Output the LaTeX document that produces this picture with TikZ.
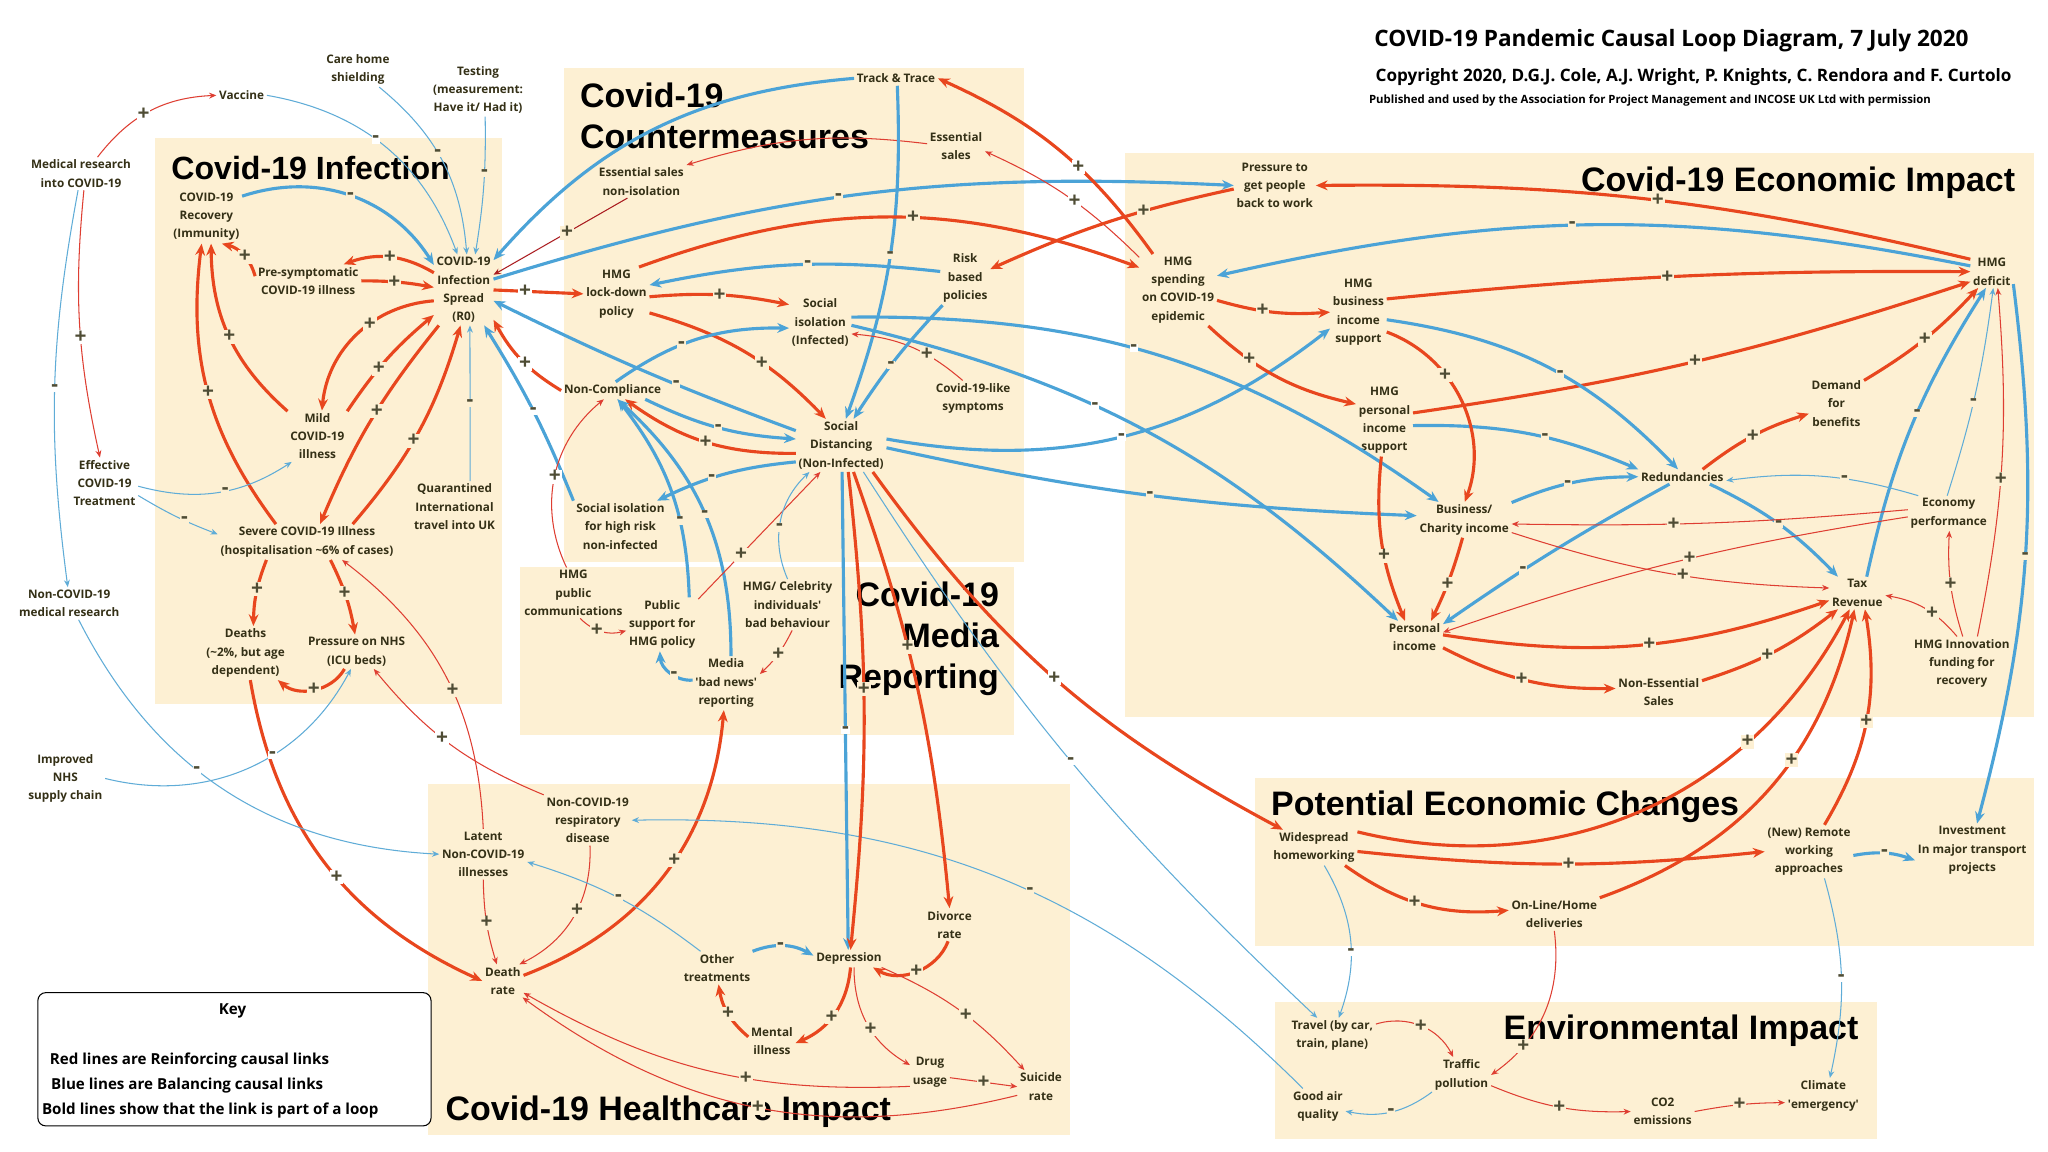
\documentclass[tikz,border=0pt]{standalone}
\usepackage{fontspec}
\setmainfont{Open Sans}
\newfontfamily\hdfont{Liberation Sans}
\usetikzlibrary{arrows.meta}
\definecolor{boxbg}{RGB}{253,240,211}
\definecolor{ink}{RGB}{52,48,22}
\definecolor{sgn}{RGB}{78,76,52}
\definecolor{redB}{RGB}{232,70,30}
\definecolor{redT}{RGB}{222,62,50}
\definecolor{redD}{RGB}{170,28,32}
\definecolor{bluB}{RGB}{75,163,215}
\definecolor{bluT}{RGB}{95,172,215}

\begin{document}
\begin{tikzpicture}[x=1pt,y=-1pt,
    nd/.style={align=center, text=ink, inner sep=2pt, font=\fontsize{9}{14}\selectfont\bfseries},
    ttl/.style={inner sep=0pt, text=black, font=\hdfont\fontsize{26}{31.5}\selectfont\bfseries},
    rb/.style={draw=redB, line width=2.4pt, -{Stealth[length=9pt,width=7.5pt]}},
    rt/.style={draw=redT, line width=0.8pt, -{Stealth[length=5.5pt,width=4.5pt]}},
    rd/.style={draw=redD, line width=0.8pt, -{Stealth[length=5.5pt,width=4.5pt]}},
    bb/.style={draw=bluB, line width=2.4pt, -{Stealth[length=9pt,width=7.5pt]}},
    bt/.style={draw=bluT, line width=0.8pt, -{Stealth[length=5.5pt,width=4.5pt]}},
    sg/.style={text=sgn, fill=boxbg, inner sep=0.6pt, font=\fontsize{16}{16}\selectfont\bfseries},
    sw/.style={sg, fill=white},
    kt/.style={anchor=west, inner sep=0pt, font=\fontsize{11.6}{13}\selectfont\bfseries},
    ]
\useasboundingbox (0,0) rectangle (1568,882);
\fill[white] (0,0) rectangle (1568,882);

% panels
\foreach \ax/\ay/\bx/\by in {119/106/384/539, 432/52/784/430, 398/434/776/563,
    861/117/1557/549, 328/600/819/869, 961/596/1557/724, 976/767/1437/872}
    \fill[boxbg] (\ax,\ay) rectangle (\bx,\by);

\node[anchor=west, inner sep=0pt, font=\fontsize{17.3}{19}\selectfont\bfseries] (head) at (1052,31) {COVID-19 Pandemic Causal Loop Diagram, 7 July 2020};
\node[anchor=west, inner sep=0pt, font=\fontsize{13.1}{15}\selectfont\bfseries] (copy) at (1053,59) {Copyright 2020, D.G.J. Cole, A.J. Wright, P. Knights, C. Rendora and F. Curtolo};
\node[anchor=west, inner sep=0pt, font=\fontsize{8.7}{10}\selectfont\bfseries] (publ) at (1048,77) {Published and used by the Association for Project Management and INCOSE UK Ltd with permission};

\node[ttl, anchor=west, font=\hdfont\fontsize{24.6}{30}\selectfont\bfseries] (tinf) at (131,129) {Covid-19 Infection};
\node[ttl, anchor=west, align=left] (tcm) at (444,89) {Covid-19\\Countermeasures};
\node[ttl, anchor=east, align=right] (tmed) at (765,489) {Covid-19\\Media\\Reporting};
\node[ttl, anchor=east] (teco) at (1543,140) {Covid-19 Economic Impact};
\node[ttl, anchor=west] (thc) at (341,851) {Covid-19 Healthcare Impact};
\node[ttl, anchor=west] (tpec) at (973,618) {Potential Economic Changes};
\node[ttl, anchor=west] (tenv) at (1151,789) {Environmental Impact};

% key
\draw[rounded corners=6pt, line width=0.8pt, fill=white] (29,760) rectangle (330,862);
\node[font=\fontsize{11.6}{13}\selectfont\bfseries] (key) at (178,774) {Key};
\node[kt] (key1) at (38,812) {Red lines are Reinforcing causal links};
\node[kt] (key2) at (39,831) {Blue lines are Balancing causal links};
\node[kt] (key3) at (32,850) {Bold lines show that the link is part of a loop};

% infection
\node[nd] (vaccine) at (185,73) {Vaccine};
\node[nd] (medres) at (62,133) {Medical research\\into COVID-19};
\node[nd] (carehome) at (274,53) {Care home\\shielding};
\node[nd] (testing) at (366,69) {Testing\\(measurement:\\Have it/ Had it)};
\node[nd] (recovery) at (158,166) {COVID-19\\Recovery\\(Immunity)};
\node[nd] (presym) at (236,215) {Pre-symptomatic\\COVID-19 illness};
\node[nd] (spread) at (355,222) {COVID-19\\Infection\\Spread\\(R0)};
\node[nd] (mild) at (243,334) {Mild\\COVID-19\\illness};
\node[nd] (effective) at (80,370) {Effective\\COVID-19\\Treatment};
\node[nd] (severe) at (235,415) {Severe COVID-19 Illness\\(hospitalisation \textasciitilde6\% of cases)};
\node[nd] (quarantine) at (348,388) {Quarantined\\International\\travel into UK};
\node[nd] (nonres) at (53,462) {Non-COVID-19\\medical research};
\node[nd] (deaths) at (188,500) {Deaths\\(\textasciitilde2\%, but age\\dependent)};
\node[nd] (nhs) at (273,499) {Pressure on NHS\\(ICU beds)};
\node[nd] (supply) at (50,596) {Improved\\NHS\\supply chain};

% countermeasures
\node[nd] (track) at (686,60) {Track \& Trace};
\node[nd] (esssales) at (732,112) {Essential\\sales};
\node[nd] (essnon) at (491,139) {Essential sales\\non-isolation};
\node[nd] (lockdown) at (472,225) {HMG\\lock-down\\policy};
\node[nd] (risk) at (739,213) {Risk\\based\\policies};
\node[nd] (socisol) at (628,247) {Social\\isolation\\(Infected)};
\node[nd] (noncomp) at (469,299) {Non-Compliance};
\node[nd] (covlike) at (745,305) {Covid-19-like\\symptoms};
\node[nd] (socdist) at (644,341) {Social\\Distancing\\(Non-Infected)};
\node[nd] (isolhigh) at (475,403) {Social isolation\\for high risk\\non-infected};

% media
\node[nd] (hmgcomm) at (439,454) {HMG\\public\\communications};
\node[nd] (pubsupport) at (507,478) {Public\\support for\\HMG policy};
\node[nd] (celeb) at (603,463) {HMG/ Celebrity\\individuals\textquotesingle\\bad behaviour};
\node[nd] (badnews) at (556,523) {Media\\\textquotesingle bad news\textquotesingle\\reporting};

% economic
\node[nd] (pressure) at (976,142) {Pressure to\\get people\\back to work};
\node[nd] (hmgdeficit) at (1525,208) {HMG\\deficit};
\node[nd] (spending) at (902,222) {HMG\\spending\\on COVID-19\\epidemic};
\node[nd] (bizsupport) at (1040,239) {HMG\\business\\income\\support};
\node[nd] (personalsup) at (1060,322) {HMG\\personal\\income\\support};
\node[nd] (demand) at (1406,309) {Demand\\for\\benefits};
\node[nd] (redund) at (1288,365) {Redundancies};
\node[nd] (bizinc) at (1121,398) {Business/\\Charity income};
\node[nd] (economy) at (1492,393) {Economy\\performance};
\node[nd] (taxrev) at (1422,454) {Tax\\Revenue};
\node[nd] (persinc) at (1083,488) {Personal\\income};
\node[nd] (nonessential) at (1270,530) {Non-Essential\\Sales};
\node[nd] (innovation) at (1502,508) {HMG Innovation\\funding for\\recovery};

% potential changes, environment
\node[nd] (homework) at (1006,649) {Widespread\\homeworking};
\node[nd] (remote) at (1385,652) {(New) Remote\\working\\approaches};
\node[nd] (invest) at (1510,651) {Investment\\In major transport\\projects};
\node[nd] (online) at (1190,700) {On-Line/Home\\deliveries};
\node[nd] (travel) at (1020,793) {Travel (by car,\\train, plane)};
\node[nd] (traffic) at (1119,823) {Traffic\\pollution};
\node[nd] (goodair) at (1009,847) {Good air\\quality};
\node[nd] (co2) at (1273,851) {CO2\\emissions};
\node[nd] (climate) at (1396,839) {Climate\\\textquotesingle emergency\textquotesingle};

% healthcare
\node[nd] (nonresp) at (450,628) {Non-COVID-19\\respiratory\\disease};
\node[nd] (latent) at (370,654) {Latent\\Non-COVID-19\\illnesses};
\node[nd] (deathrate) at (385,751) {Death\\rate};
\node[nd] (othertreat) at (549,741) {Other\\treatments};
\node[nd] (depression) at (650,734) {Depression};
\node[nd] (divorce) at (727,708) {Divorce\\rate};
\node[nd] (mental) at (591,797) {Mental\\illness};
\node[nd] (drug) at (712,821) {Drug\\usage};
\node[nd] (suicide) at (797,832) {Suicide\\rate};

% links: infection
\draw[rt] (medres.45) to[bend left=25] node[sw,pos=.45]{+} (vaccine.west);
\draw[bt] (vaccine.east) to[bend left=30] node[sw,pos=.45]{-} (spread.100);
\draw[bt] (carehome.-40) to[bend left=23] node[sg,pos=.45]{-} (spread.85);
\draw[bt] (testing.-75) to[bend left=5] node[sg,pos=.4]{-} (spread.72);
\draw[bb] (recovery.30) to[bend left=38] node[sg,pos=.5]{-} (spread.140);
\draw[rb] (spread.150) to[bend right=25] node[sg,pos=.5]{+} (presym.25);
\draw[rb] (presym.0) to[bend left=5] node[sg,pos=.45]{+} (spread.175);
\draw[rb] (presym.175) to[bend right=30] node[sg,pos=.45]{+} (recovery.-60);
\draw[rb] (mild.140) to[bend left=24] node[sg,pos=.5]{+} (recovery.-80);
\draw[rb] (severe.150) to[bend left=22] node[sg,pos=.5]{+} (recovery.-100);
\draw[rb] (spread.200) to[bend right=40] node[sg,pos=.4]{+} (mild.80);
\draw[rb] (mild.40) to[bend left=8] node[sg,pos=.4]{+} (spread.220);
\draw[rb] (spread.235) to[bend right=8] node[sg,pos=.45]{+} ([xshift=10pt]severe.north);
\draw[rb] ([xshift=35pt]severe.north) to[bend right=12] node[sg,pos=.45]{+} (spread.265);
\draw[bt] ([xshift=12pt]quarantine.north) -- node[sg,pos=.5]{-} (spread.-80);
\draw[rb] (noncomp.west) to[bend left=15] node[sw,pos=.45]{+} (spread.-45);
\draw[bb] (isolhigh.north west) to[bend right=5] node[sw,pos=.5]{-} (spread.-60);
\draw[rb] (spread.east) -- node[sw,pos=.35]{+} (lockdown.west);
\draw[bb] (track.west) to[bend right=22] (spread.45);
\draw[rd] (essnon.-130) -- node[sg,pos=.45]{+} (spread.27);
\draw[bb] (spread.20) to[bend left=10] node[sg,pos=.47]{-} (pressure.west);

% links: countermeasures
\draw[rb] (spending.125) to[bend right=15] node[sw,pos=.4]{+} (track.east);
\draw[rt] (spending.140) to[bend right=10] node[sw,pos=.45]{+} (esssales.-10);
\draw[rt] (esssales.175) to[bend right=12] (essnon.north east);
\draw[bb] (track.-80) to[bend left=11] node[sg,pos=.5]{-} (socdist.80);
\draw[rb] (lockdown.50) to[bend left=20] node[sg,pos=.55]{+} (spending.150);
\draw[bb] (risk.165) to[bend right=9] node[sg,pos=.45]{-} (lockdown.15);
\draw[rb] (lockdown.-5) to[bend left=8] node[sg,pos=.5]{+} (socisol.150);
\draw[rb] (lockdown.-30) to[bend left=15] node[sg,pos=.6]{+} (socdist.120);
\draw[bb] (noncomp.70) to[bend left=18] node[sg,pos=.4]{-} (socisol.-170);
\draw[rt] (covlike.120) to[bend right=18] node[sg,pos=.35]{+} (socisol.-20);
\draw[bb] (risk.-130) to[bend right=5] node[sg,pos=.55]{-} (socdist.65);
\draw[bb] (socisol.10) to[bend left=18] node[sw,pos=.45]{-} (bizinc.145);
\draw[bb] (socisol.-5) to[bend left=15] node[sw,pos=.4]{-} (persinc.135);
\draw[rb] (socdist.190) to[bend left=18] node[sg,pos=.5]{+} (noncomp.-35);
\draw[bb] (noncomp.-15) to[bend right=11] node[sg,pos=.5]{-} (socdist.172);
\draw[bb] (socdist.162) to[bend left=3] node[sg,pos=.38]{-} (spread.-20);
\draw[bb] (socdist.-160) to[bend right=10] node[sg,pos=.6]{-} (isolhigh.35);

% links: media
\draw[bb] (pubsupport.45) to[bend right=18] node[sg,pos=.35]{-} (noncomp.-60);
\draw[bb] (badnews.80) to[bend right=24] node[sg,pos=.5]{-} (noncomp.-62);
\draw[rt] (pubsupport.35) -- node[sg,pos=.35]{+} (socdist.-128);
\draw[bt] (celeb.north) to[bend left=35] node[sg,pos=.45]{-} (socdist.-140);
\draw[rt] (hmgcomm.105) to[bend left=38] node[sw,pos=.5]{+} (noncomp.-135);
\draw[rt] (hmgcomm.-75) to[bend right=30] node[sg,pos=.4]{+} (pubsupport.-170);
\draw[bb] (badnews.175) to[bend left=45] node[sg,pos=.4]{-} (pubsupport.-95);
\draw[rt] (celeb.-80) to[bend left=10] node[sg,pos=.5]{+} (badnews.15);

% links: healthcare
\draw[rb] (deaths.-80) to[bend right=28] node[sw,pos=.55]{+} (deathrate.west);
\draw[rb] (nhs.-125) to[out=-120,in=-40] node[sg,pos=.5]{+} (deaths.-40);
\draw[rb] ([xshift=-31pt]severe.south) to[bend right=10] node[sg,pos=.45]{+} ([xshift=6pt]deaths.north);
\draw[rb] ([xshift=18pt]severe.south) to[bend left=8] node[sg,pos=.45]{+} (nhs.95);
\draw[bt] (supply.east) to[bend right=38] node[sw,pos=.6]{-} (nhs.-108);
\draw[bt] (effective.-5) to[bend right=24] node[sg,pos=.55]{-} (mild.-135);
\draw[bt] (effective.-20) to[bend right=5] node[sg,pos=.6]{-} (severe.175);
\draw[rt] (medres.-80) to[bend right=9] node[sw,pos=.55]{+} (effective.100);
\draw[bt] (medres.-100) to[bend right=9] node[sw,pos=.5]{-} (nonres.95);
\draw[bt] (nonres.-60) to[bend right=30] node[sw,pos=.42]{-} (latent.west);
\draw[rt] (latent.south) to[bend right=8] node[sg,pos=.5]{+} (deathrate.110);
\draw[rt] (latent.north) to[bend right=25] node[sg,pos=.45]{+} (severe.-27);
\draw[rt] (nonresp.150) to[bend left=14] node[sw,pos=.55]{+} (nhs.-45);
\draw[rt] (nonresp.-85) to[bend left=33] node[sg,pos=.45]{+} (deathrate.45);
\draw[rb] (deathrate.15) to[bend right=32] node[sg,pos=.55]{+} (badnews.-95);
\draw[bt] (othertreat.135) to[bend right=10] node[sg,pos=.5]{-} (latent.-10);
\draw[bb] (othertreat.25) to[bend left=25] node[sg,pos=.45]{-} (depression.175);
\draw[rb] (divorce.-95) to[bend left=50] node[sg,pos=.5]{+} (depression.-20);
\draw[rb] (depression.-80) to[bend left=31] node[sg,pos=.55]{+} (mental.-5);
\draw[rb] (mental.170) to[bend left=20] node[sg,pos=.5]{+} (othertreat.-85);
\draw[rt] (depression.-60) to[bend right=30] node[sg,pos=.55]{+} (drug.160);
\draw[rt] (depression.-15) to[bend left=12] node[sg,pos=.55]{+} (suicide.135);
\draw[rt] (drug.-15) -- node[sg,pos=.5]{+} (suicide.180);
\draw[rt] (drug.-145) to[bend left=16] node[sg,pos=.4]{+} (deathrate.-30);
\draw[rt] (suicide.-160) to[bend left=25] node[sg,pos=.5]{+} (deathrate.-40);
\draw[bt] (goodair.130) to[bend right=23] node[sg,pos=.45]{-} (nonresp.east);

% links: from social distancing
\draw[bb] (socdist.-88) -- node[sw,pos=.54]{-} (depression.95);
\draw[rb] (socdist.-75) to[bend left=6] node[sg,pos=.45]{+} (depression.80);
\draw[rb] (socdist.-65) to[bend left=7] node[sg,pos=.4]{+} (divorce.north);
\draw[bt] (socdist.-50) to[bend right=7] node[sw,pos=.5]{-} (travel.130);
\draw[rb] (socdist.-40) to[bend right=13] node[sw,pos=.5]{+} (homework.150);
\draw[bb] (socdist.-3) to[bend right=5] node[sg,pos=.5]{-} (bizinc.175);
\draw[bb] (socdist.8) to[bend right=24] node[sw,pos=.5]{-} (bizsupport.-150);

% links: economic
\draw[rb] (hmgdeficit.150) to[bend right=7] node[sg,pos=.48]{+} (pressure.east);
\draw[bb] (hmgdeficit.165) to[bend right=12] node[sg,pos=.53]{-} (spending.20);
\draw[rb] (bizsupport.25) to[bend left=3] node[sg,pos=.48]{+} (hmgdeficit.180);
\draw[rb] (spending.-15) to[bend right=10] node[sg,pos=.4]{+} (bizsupport.180);
\draw[rb] (spending.-50) to[bend right=15] node[sg,pos=.3]{+} (personalsup.150);
\draw[rb] (personalsup.15) to[bend right=5] node[sg,pos=.5]{+} (hmgdeficit.-155);
\draw[bb] (personalsup.-10) to[bend left=12] node[sg,pos=.58]{-} (redund.north west);
\draw[bb] (bizsupport.-15) to[bend left=19] node[sg,pos=.55]{-} (redund.120);
\draw[rb] (bizsupport.-35) to[bend left=45] node[sg,pos=.35]{+} (bizinc.88);
\draw[rb] (personalsup.-95) to[bend right=14] node[sg,pos=.6]{+} (persinc.120);
\draw[rb] (bizinc.-95) to[bend left=5] node[sg,pos=.55]{+} (persinc.45);
\draw[bb] (redund.-150) to[bend right=3] node[sg,pos=.65]{-} (persinc.25);
\draw[bb] (bizinc.20) to[bend left=11] node[sg,pos=.45]{-} (redund.west);
\draw[rb] (redund.20) to[bend left=10] node[sg,pos=.5]{+} (demand.-160);
\draw[rb] (demand.40) to[bend right=8] node[sg,pos=.5]{+} (hmgdeficit.-130);
\draw[bb] (redund.-15) to[bend left=10] node[sg,pos=.5]{-} (taxrev.140);
\draw[bb] (taxrev.60) to[bend left=10] node[sg,pos=.55]{-} (hmgdeficit.-110);
\draw[bt] (economy.150) to[bend right=12] node[sg,pos=.38]{-} (redund.-5);
\draw[bt] (economy.95) to[bend right=5] node[sg,pos=.45]{-} (hmgdeficit.-85);
\draw[rt] (economy.175) to[bend left=3] node[sg,pos=.6]{+} (bizinc.-5);
\draw[rt] (economy.-175) to[bend right=5] node[sg,pos=.46]{+} (persinc.10);
\draw[rt] (bizinc.-15) to[bend right=8] node[sg,pos=.55]{+} (taxrev.170);
\draw[rb] (persinc.5) to[bend right=14] node[sg,pos=.53]{+} (taxrev.-165);
\draw[rb] (persinc.-20) to[bend right=14] node[sg,pos=.47]{+} (nonessential.175);
\draw[rb] (nonessential.15) to[bend right=10] node[sg,pos=.45]{+} (taxrev.-140);
\draw[rt] (innovation.100) to[bend right=20] node[sg,pos=.4]{+} (taxrev.-5);
\draw[rt] (innovation.88) to[bend left=10] node[sg,pos=.5]{+} (economy.-88);
\draw[rt] (innovation.60) to[bend right=8] node[sg,pos=.45]{+} (hmgdeficit.-70);
\draw[bb] (hmgdeficit.-30) to[bend left=11] node[sg,pos=.5]{-} (invest.80);
\draw[rb] (pressure.-175) to[bend right=6] node[sg,pos=.35]{+} (risk.20);

% links: potential changes, environment
\draw[rb] (homework.20) to[bend right=38] node[sg,pos=.72]{+} (taxrev.-115);
\draw[rb] (online.20) to[bend right=29] node[sg,pos=.6]{+} (taxrev.-100);
\draw[rb] (remote.60) to[bend right=20] node[sg,pos=.5]{+} (taxrev.-65);
\draw[rb] (homework.-5) to[bend right=6] node[sg,pos=.52]{+} (remote.180);
\draw[rb] (homework.-30) to[bend right=20] node[sg,pos=.45]{+} (online.175);
\draw[bb] (remote.-5) to[bend left=15] node[sg,pos=.5]{-} (invest.-170);
\draw[bt] (remote.-60) to[bend left=14] node[sw,pos=.5]{-} (climate.70);
\draw[bt] (homework.-60) to[bend left=25] node[sw,pos=.58]{-} (travel.70);
\draw[rt] (online.south) to[bend left=31] node[sg,pos=.75]{+} (traffic.east);
\draw[rt] (travel.15) to[bend left=40] node[sg,pos=.5]{+} (traffic.115);
\draw[bt] (traffic.-150) to[bend left=24] node[sg,pos=.5]{-} (goodair.-10);
\draw[rt] (traffic.-20) to[bend right=12] node[sg,pos=.5]{+} (co2.180);
\draw[rt] (co2.0) to[bend left=5] node[sg,pos=.5]{+} (climate.-170);
\end{tikzpicture}
\end{document}
